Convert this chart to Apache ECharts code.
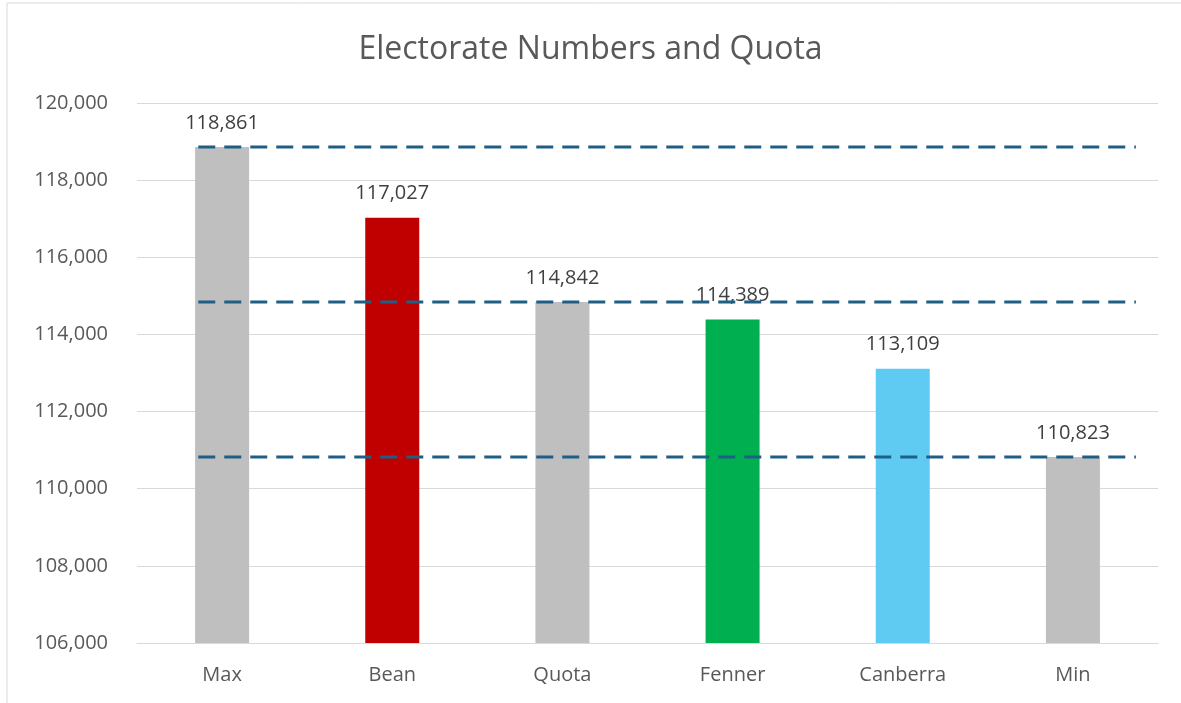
<!DOCTYPE html>
<html lang="en">
<head>
	<meta charset="UTF-8">
	<title>Electorate Numbers and Quota</title>
	<script src="https://cdn.jsdelivr.net/npm/echarts@6/dist/echarts.min.js"></script>
	<style>
		html, body { margin: 0; padding: 0; background: #fff; }
		#chart { width: 1181px; height: 703px; }
	</style>
</head>
<body>
	<div id="chart"></div>
	<script>
		// data
		var categories = ['Max', 'Bean', 'Quota', 'Fenner', 'Canberra', 'Min'];
		var values = [118861, 117027, 114842, 114389, 113109, 110823];
		var barColors = ['#bfbfbf', '#c00000', '#bfbfbf', '#00b050', '#5fcaf2', '#bfbfbf'];
		// reference lines: max, quota, min
		var refLevels = [118861, 114842, 110823];
		var refSpan = [0.36, 5.87]; // in category units along the x axis

		var fontFam = 'Open Sans, Liberation Sans, sans-serif';
		var myChart = echarts.init(document.getElementById('chart'));

		var series = [{
			type: 'bar',
			barWidth: 54,
			data: values.map(function (v, i) {
				return { value: v, itemStyle: { color: barColors[i] } };
			}),
			label: {
				show: true,
				position: 'top',
				distance: 14,
				color: '#404040',
				fontSize: 20,
				fontFamily: fontFam,
				formatter: function (p) { return p.value.toLocaleString('en-US'); }
			},
			z: 2
		}];

		refLevels.forEach(function (lv) {
			series.push({
				type: 'line',
				xAxisIndex: 1,
				symbol: 'none',
				silent: true,
				data: [[refSpan[0], lv], [refSpan[1], lv]],
				lineStyle: { color: '#1f5f86', width: 3, type: [17, 9] },
				z: 3
			});
		});

		var option = {
			backgroundColor: '#fff',
			animation: false,
			title: {
				text: 'Electorate Numbers and Quota',
				left: 'center',
				top: 29,
				textStyle: { color: '#595959', fontSize: 32, fontWeight: 'normal', fontFamily: fontFam }
			},
			graphic: [{
				type: 'rect',
				shape: { x: 7, y: 3, width: 1300, height: 900 },
				style: { fill: 'none', stroke: '#d9d9d9', lineWidth: 1 },
				silent: true
			}],
			grid: { left: 137, right: 23, top: 103, bottom: 60 },
			xAxis: [{
				type: 'category',
				data: categories,
				axisLine: { lineStyle: { color: '#d9d9d9', width: 1 } },
				axisTick: { show: false },
				axisLabel: { color: '#595959', fontSize: 20, margin: 22, fontFamily: fontFam }
			}, {
				type: 'value',
				min: 0,
				max: categories.length,
				show: false
			}],
			yAxis: {
				type: 'value',
				min: 106000,
				max: 120000,
				interval: 2000,
				axisLine: { show: false },
				axisTick: { show: false },
				splitLine: { lineStyle: { color: '#d9d9d9', width: 1 } },
				axisLabel: {
					color: '#595959', fontSize: 20, margin: 29, fontFamily: fontFam,
					formatter: function (v) { return v.toLocaleString('en-US'); }
				}
			},
			series: series
		};
		myChart.setOption(option);
	</script>
</body>
</html>
